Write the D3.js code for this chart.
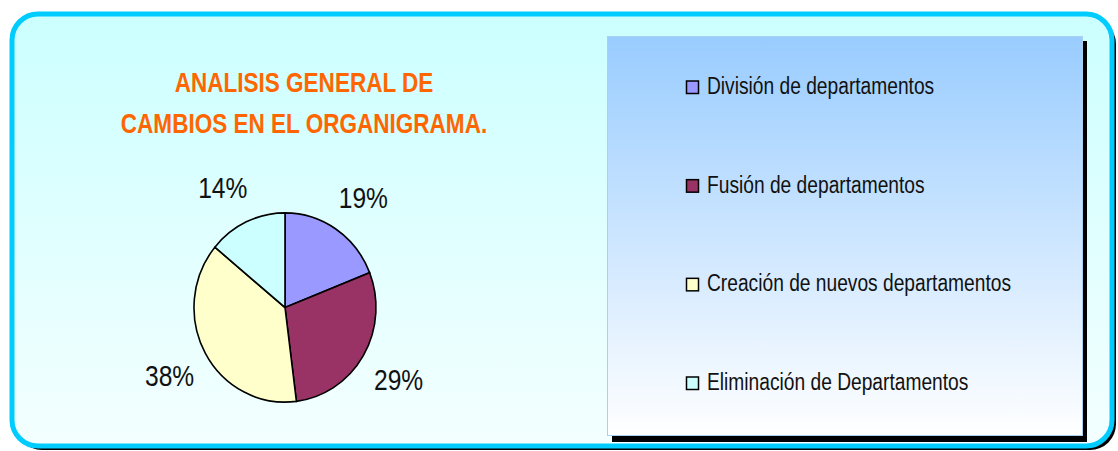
<!DOCTYPE html>
<html>
<head>
<meta charset="utf-8">
<title>Analisis general de cambios en el organigrama</title>
<script src="https://cdn.jsdelivr.net/npm/d3@7"></script>
<style>
    body { margin: 0; background: #ffffff; }
    .narrow { font-family: "Liberation Sans", Arial, sans-serif; }
</style>
</head>
<body>
<div class="viz-container"></div>
<script>
    // Chart data
    var categories = ["División de departamentos", "Fusión de departamentos",
                      "Creación de nuevos departamentos", "Eliminación de Departamentos"];
    var values = [19, 29, 38, 14];
    var colors = ["#9999FF", "#993366", "#FFFFCC", "#CCFFFF"];
    var titleLines = ["ANALISIS GENERAL DE", "CAMBIOS EN EL ORGANIGRAMA."];

    var width = 1118, height = 451;
    var squeeze = 0.82;   // the original uses a narrow face, so squash Liberation Sans

    var svg = d3.select(".viz-container").append("svg")
        .attr("width", width).attr("height", height);

    var defs = svg.append("defs");
    var bgGrad = defs.append("linearGradient").attr("id", "bgGrad")
        .attr("x1", 0).attr("y1", 0).attr("x2", 0).attr("y2", 1);
    bgGrad.append("stop").attr("offset", "0%").attr("stop-color", "#CCFFFF");
    bgGrad.append("stop").attr("offset", "100%").attr("stop-color", "#F4FFFF");

    var legGrad = defs.append("linearGradient").attr("id", "legGrad")
        .attr("x1", 0).attr("y1", 0).attr("x2", 0).attr("y2", 1);
    legGrad.append("stop").attr("offset", "0%").attr("stop-color", "#99CCFF");
    legGrad.append("stop").attr("offset", "100%").attr("stop-color", "#FFFFFF");

    // outer frame with shadow
    svg.append("rect").attr("x", 16).attr("y", 18).attr("width", 1100).attr("height", 432)
        .attr("rx", 26).attr("fill", "#000");
    svg.append("rect").attr("x", 12).attr("y", 14).attr("width", 1100).attr("height", 432)
        .attr("rx", 26).attr("fill", "url(#bgGrad)")
        .attr("stroke", "#00CCFF").attr("stroke-width", 5);

    // title
    svg.selectAll(".title").data(titleLines).enter().append("text")
        .attr("class", "narrow title")
        .attr("transform", function(d, i) {
            return "translate(304," + (92 + i * 41) + ") scale(" + squeeze + ",1)";
        })
        .attr("text-anchor", "middle")
        .attr("fill", "#FF6600")
        .attr("font-size", 27.5)
        .attr("font-weight", "bold")
        .text(function(d) { return d; });

    // pie
    var cx = 285, cy = 307.5, yStretch = 1.04;
    var pie = d3.pie().sort(null)(values);
    var radius = 91;
    var arc = d3.arc().innerRadius(0).outerRadius(radius);
    var labelArc = d3.arc().innerRadius(118).outerRadius(118);

    var pieG = svg.append("g")
        .attr("transform", "translate(" + cx + "," + cy + ") scale(1," + yStretch + ")");
    pieG.selectAll("path").data(pie).enter().append("path")
        .attr("d", arc)
        .attr("fill", function(d, i) { return colors[i]; })
        .attr("stroke", "#000").attr("stroke-width", 1.6);

    // labels sit outside the slice, pushed away from the anchor point like excel does
    svg.selectAll(".pct").data(pie).enter().append("text")
        .attr("class", "narrow pct")
        .attr("transform", function(d) {
            var c = labelArc.centroid(d);
            var lx = cx + c[0] + (c[0] > 0 ? 12 : -12);
            var ly = cy + c[1] * yStretch + (c[1] > 0 ? 9 : -9);
            return "translate(" + lx + "," + ly + ") scale(" + squeeze + ",1)";
        })
        .attr("text-anchor", "middle")
        .attr("dy", "0.36em")
        .attr("font-size", 30)
        .attr("fill", "#111")
        .text(function(d) { return d.data + "%"; });

    // legend box
    svg.append("rect").attr("x", 612).attr("y", 41).attr("width", 475).attr("height", 401)
        .attr("fill", "#000");
    svg.append("rect").attr("x", 607.5).attr("y", 36.5).attr("width", 475).attr("height", 399)
        .attr("fill", "url(#legGrad)")
        .attr("stroke", "#A8D0F0").attr("stroke-width", 1);

    var legendY = d3.scalePoint().domain(categories).range([94, 390]);
    var item = svg.selectAll(".leg-item").data(categories).enter().append("g")
        .attr("class", "leg-item")
        .attr("transform", function(d) { return "translate(686," + legendY(d) + ")"; });
    item.append("rect").attr("x", 0.5).attr("y", -13).attr("width", 12).attr("height", 12.5)
        .attr("fill", function(d, i) { return colors[i]; })
        .attr("stroke", "#000").attr("stroke-width", 1.5);
    item.append("text").attr("class", "narrow")
        .attr("transform", "translate(21,0) scale(0.835,1)")
        .attr("font-size", 23)
        .attr("fill", "#111")
        .text(function(d) { return d; });
</script>
</body>
</html>
